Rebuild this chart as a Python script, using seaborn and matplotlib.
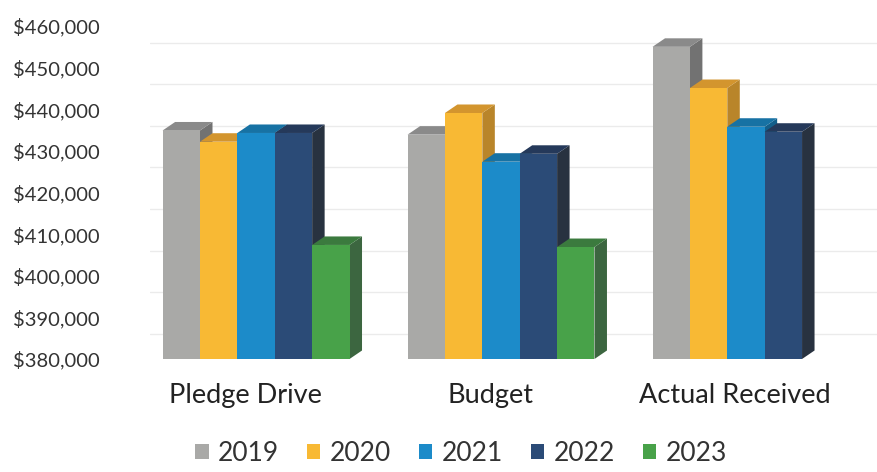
import numpy as np
import pandas as pd
import matplotlib
matplotlib.use("Agg")
import matplotlib.pyplot as plt
import matplotlib.transforms as mtransforms
from matplotlib.patches import Polygon
from matplotlib.ticker import FuncFormatter
import seaborn as sns

# ---------------- data ----------------
categories = ["Pledge Drive", "Budget", "Actual Received"]
years = ["2019", "2020", "2021", "2022", "2023"]
values_2019 = [434900, 433900, 455000]
values_2020 = [432200, 439100, 445100]
values_2021 = [434300, 427400, 435800]
values_2022 = [434300, 429300, 434600]
values_2023 = [407400, 406900, np.nan]
y_ticks = [380000, 390000, 400000, 410000, 420000, 430000, 440000, 450000, 460000]

# ---------------- style ----------------
front_colors = ["#A9A9A7", "#F8B934", "#1C8BC9", "#2B4B77", "#48A249"]
cap_colors = ["#8A8A8A", "#D3952E", "#1772A4", "#25395A", "#3B7A3E"]
side_colors = ["#727272", "#B9852A", "#135F8B", "#283240", "#3C6640"]

series = [values_2019, values_2020, values_2021, values_2022, values_2023]
rows = []
for yr, vals in zip(years, series):
    for cat, v in zip(categories, vals):
        rows.append({"category": cat, "year": yr, "value": v})
df = pd.DataFrame(rows)

sns.set_theme(style="white")
plt.rcParams["font.family"] = ["Lato", "DejaVu Sans"]

W, H = 878, 472
fig = plt.figure(figsize=(W / 100, H / 100), dpi=100)
ax_left, ax_bottom_px, ax_top_px = 150, 359, 26
ax = fig.add_axes([ax_left / W, 1 - ax_bottom_px / H, 1 - ax_left / W,
                   (ax_bottom_px - ax_top_px) / H])

sns.barplot(data=df, x="category", y="value", hue="year", order=categories,
            hue_order=years, palette=front_colors, saturation=1, width=0.763,
            gap=0, errorbar=None, linewidth=0, edgecolor="none", ax=ax)

ymin, ymax = y_ticks[0], y_ticks[-1]
ax.set_ylim(ymin, ymax)
ax.set_xlim(-0.433, 2.539)
ax.set_yticks(y_ticks)
ax.yaxis.set_major_formatter(FuncFormatter(lambda v, p: f"${v:,.0f}"))
ax.set_xlabel("")
ax.set_ylabel("")
for s in ax.spines.values():
    s.set_visible(False)
ax.tick_params(axis="y", length=0, pad=36, labelsize=14.5, labelcolor="#333333")
ax.tick_params(axis="x", length=0, pad=17, labelsize=19.5, labelcolor="#222222")
for lbl in ax.get_xticklabels():
    lbl.set_transform(lbl.get_transform() +
                      mtransforms.ScaledTranslation(-11 / 100, 0, fig.dpi_scale_trans))

# back-wall gridlines (shifted up like the 3-D back wall)
off = mtransforms.ScaledTranslation(0, 25 / 100, fig.dpi_scale_trans)
for v in y_ticks:
    ax.plot([0, 1], [v, v], transform=ax.get_yaxis_transform() + off,
            color="#EBEBEB", lw=1.0, zorder=0.5)

# 3-D depth for each bar
fig.canvas.draw()
p0 = ax.transData.transform((0, ymin))
p1 = ax.transData.transform((1, ymin + 10000))
px_x = p1[0] - p0[0]
px_y = (p1[1] - p0[1]) / 10000
dx = 12.5 / px_x
dy = 8.5 / px_y

for k, cont in enumerate(ax.containers):
    for bar in cont:
        h = bar.get_height()
        if h is None or np.isnan(h):
            continue
        x0, w = bar.get_x(), bar.get_width()
        top = bar.get_y() + h
        bot = ymin
        base = 2 + k * 0.1
        side = Polygon([(x0 + w, bot), (x0 + w + dx, bot + dy),
                        (x0 + w + dx, top + dy), (x0 + w, top)],
                       closed=True, facecolor=side_colors[k], edgecolor="none",
                       zorder=base)
        cap = Polygon([(x0, top), (x0 + dx, top + dy),
                       (x0 + w + dx, top + dy), (x0 + w, top)],
                      closed=True, facecolor=cap_colors[k], edgecolor="none",
                      zorder=base + 0.03)
        ax.add_patch(side)
        ax.add_patch(cap)
        bar.set_zorder(base + 0.06)

handles, labels = ax.get_legend_handles_labels()
if ax.get_legend() is not None:
    ax.get_legend().remove()
fig.legend(handles, labels, loc="center", bbox_to_anchor=(0.525, 0.040),
           ncol=5, frameon=False, fontsize=19, handlelength=0.52,
           handleheight=0.52, handletextpad=0.35, columnspacing=1.05,
           labelcolor="#333333")

fig.savefig("out.png", dpi=100, facecolor="white")
